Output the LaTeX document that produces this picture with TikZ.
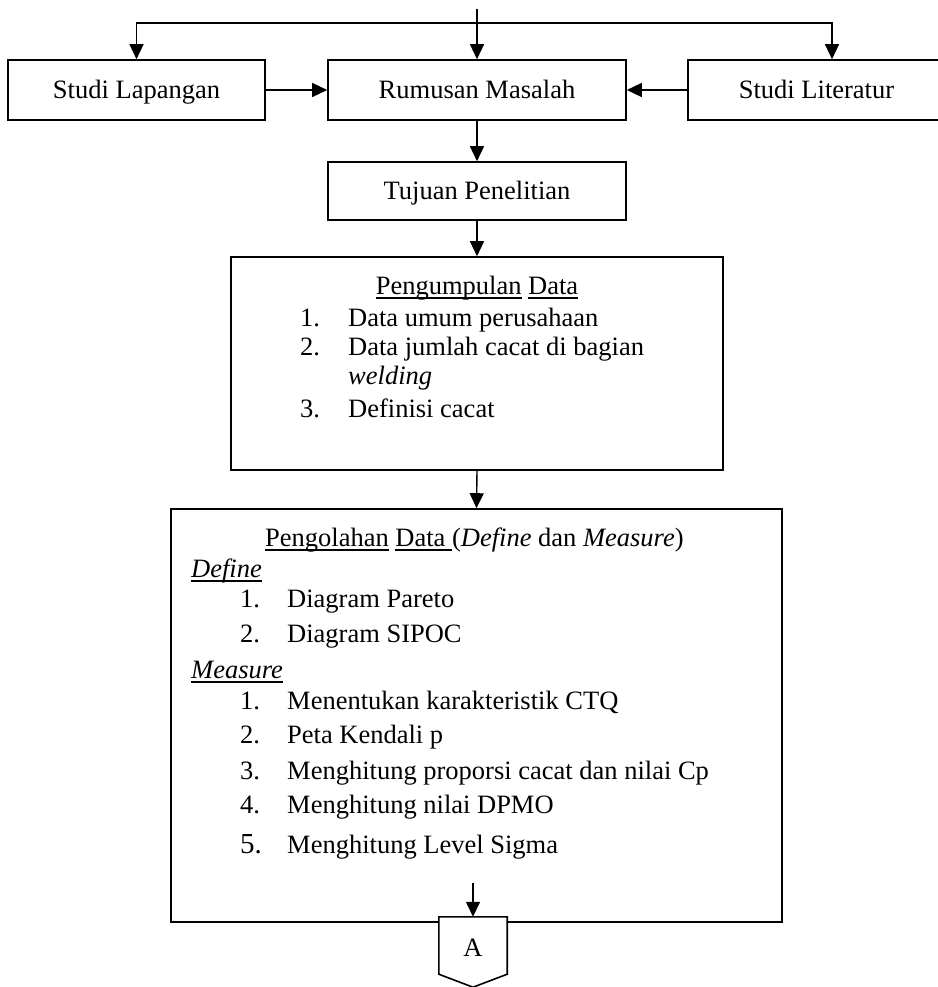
\documentclass[tikz,border=0pt]{standalone}
\usepackage{fontspec}
\setmainfont{Liberation Serif}
\usetikzlibrary{arrows.meta,calc}
\newsavebox\ulbox
\newcommand{\myul}[1]{\sbox\ulbox{#1}\rlap{\rule[-4.6pt]{\wd\ulbox}{1.2pt}}\usebox\ulbox}
\newcommand{\mainfs}{\fontsize{26.5}{30}\selectfont}
\newcommand{\bigfs}{\fontsize{29}{30}\selectfont}
\begin{document}
\begin{tikzpicture}[x=1pt,y=-1pt,
  box/.style={draw, line width=1.6pt, inner sep=0pt, font=\mainfs, text height=22pt, text depth=4pt},
  bigbox/.style={draw, line width=1.6pt, inner sep=0pt},
  conn/.style={line width=1.4pt, -{Triangle[length=15pt,width=14pt]}},
  txt/.style={anchor=base west, inner sep=0pt, font=\mainfs},
  ctxt/.style={anchor=base, inner sep=0pt, font=\mainfs}]
\fill[white] (0,0) rectangle (937,987);
\useasboundingbox (0,0) rectangle (937,987);

% top row
\node[box, minimum width=257pt, minimum height=60pt] (lap) at (136.5,90) {Studi Lapangan};
\node[box, minimum width=298pt, minimum height=60pt] (rum) at (477,90) {Rumusan Masalah};
\node[box, minimum width=257pt, minimum height=60pt] (lit) at (816.5,90) {Studi Literatur};
\node[box, minimum width=298pt, minimum height=58pt] (tuj) at (477,191) {Tujuan Penelitian};

% big boxes
\node[bigbox, minimum width=492pt, minimum height=213pt] (peng) at (477,363.5) {};
\node[bigbox, minimum width=611pt, minimum height=413pt] (olah) at (476.5,715.5) {};

% top connectors
\coordinate (start) at (477,9);
\coordinate (split) at (477,23);
\draw[conn] (start) -- (rum.north);
\draw[conn] (split) -| (lap.north);
\draw[conn] (split) -| ([xshift=15.5pt]lit.north);
\draw[conn] (lap.east) -- (rum.west);
\draw[conn] (lit.west) -- (rum.east);
\draw[conn] (rum.south) -- (tuj.north);
\draw[conn] (tuj.south) -- (peng.north);
\draw[conn] (peng.south) -- (olah.north);

% Pengumpulan Data text
\node[ctxt] (pt) at (477,294) {\myul{Pengumpulan} \myul{Data}};
\node[txt] (pn1) at (300,326) {1.};
\node[txt] (pi1) at (348,326) {Data umum perusahaan};
\node[txt] (pn2) at (300,355) {2.};
\node[txt] (pi2) at (348,355) {Data jumlah cacat di bagian};
\node[txt] (pi2b) at (348,384) {\textit{welding}};
\node[txt] (pn3) at (300,417) {3.};
\node[txt] (pi3) at (348,417) {Definisi cacat};

% Pengolahan Data text
\node[txt] (ot) at (265,546) {\myul{Pengolahan} \myul{Data\ }(\textit{Define} dan \textit{Measure})};
\node[txt] (odef) at (191,577) {\myul{\textit{Define}}};
\node[txt] (dn1) at (240,607) {1.};
\node[txt] (di1) at (287,607) {Diagram Pareto};
\node[txt] (dn2) at (240,642) {2.};
\node[txt] (di2) at (287,642) {Diagram SIPOC};
\node[txt] (omea) at (191,678) {\myul{\textit{Measure}}};
\node[txt] (mn1) at (240,709) {1.};
\node[txt] (mi1) at (287,709) {Menentukan karakteristik CTQ};
\node[txt] (mn2) at (240,743) {2.};
\node[txt] (mi2) at (287,743) {Peta Kendali p};
\node[txt] (mn3) at (240,779) {3.};
\node[txt] (mi3) at (287,779) {Menghitung proporsi cacat dan nilai Cp};
\node[txt] (mn4) at (240,813) {4.};
\node[txt] (mi4) at (287,813) {Menghitung nilai DPMO};
\node[txt, font=\bigfs] (mn5) at (240,853) {5.};
\node[txt] (mi5) at (287,853) {Menghitung Level Sigma};

% off-page connector A
\node[inner sep=0pt, minimum width=68pt, minimum height=57pt] (A) at (473,945.5) {};
\draw[line width=1.6pt, fill=white] (A.north west) -- (A.north east) -- (A.south east)
  -- ($(A.south)+(0,13)$) -- (A.south west) -- cycle;
\node[inner sep=0pt, font=\mainfs] (Alabel) at (473,948) {A};
\coordinate (ain) at (473,883);
\draw[conn] (ain) -- (A.north);
\end{tikzpicture}
\end{document}
